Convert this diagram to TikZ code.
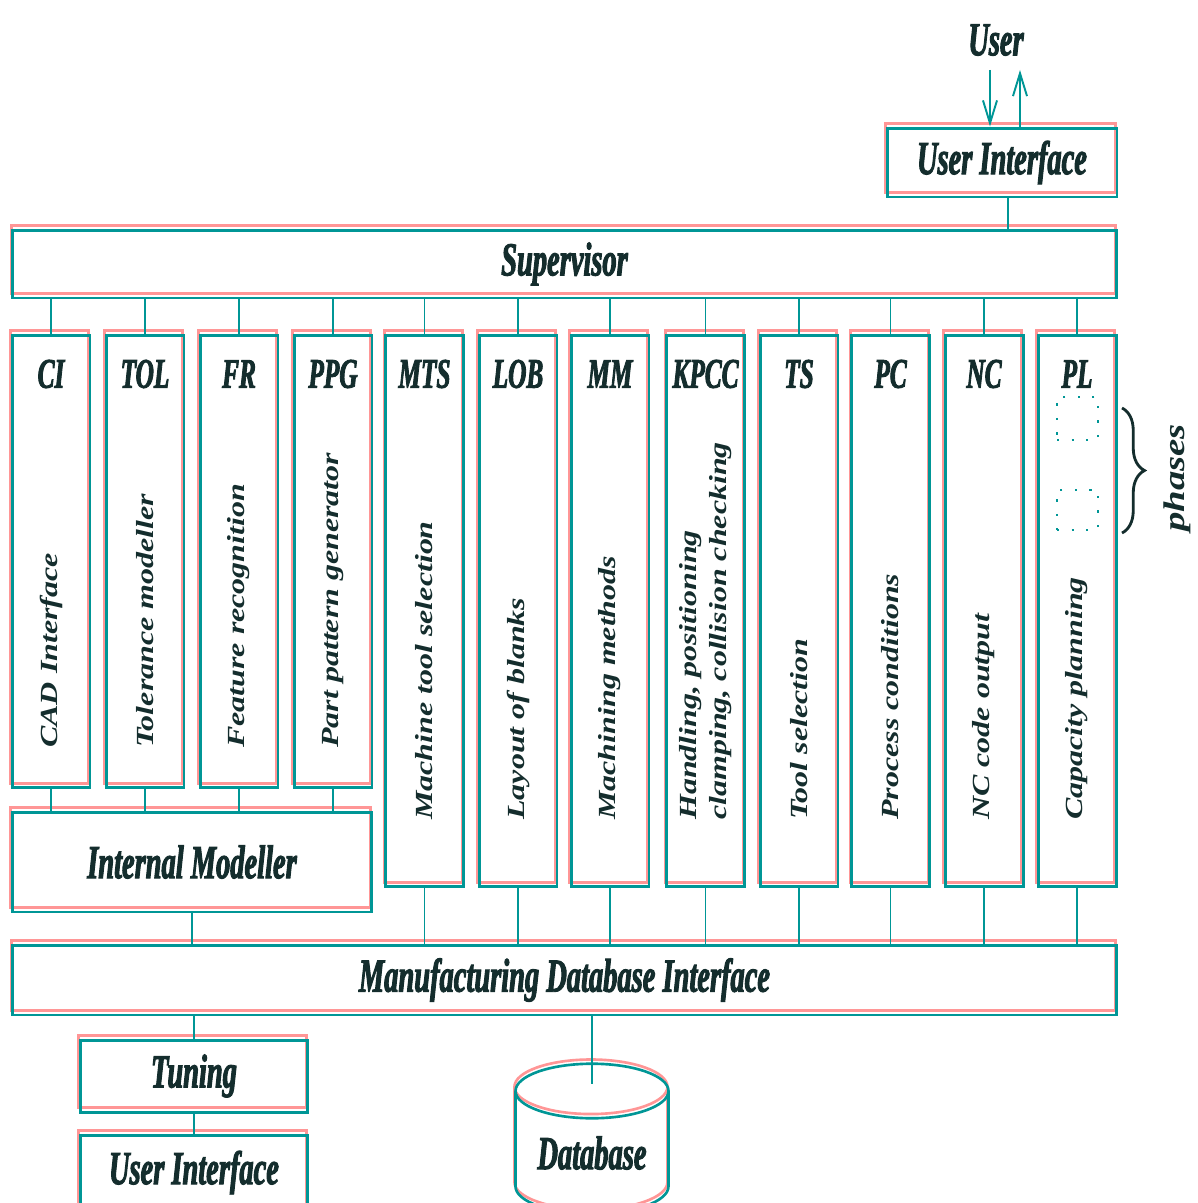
\documentclass[tikz,border=0pt]{standalone}
\usepackage{fontspec}
\newfontfamily\hfont[FakeStretch=0.6,FakeBold=2]{Liberation Serif Bold Italic}
\newfontfamily\vfont[FakeStretch=1.3]{Liberation Serif}
\usetikzlibrary{positioning,calc,arrows.meta,shapes.geometric,decorations.pathreplacing}
\definecolor{linecol}{RGB}{0,150,150}
\definecolor{halocol}{RGB}{255,150,150}
\definecolor{inkcol}{RGB}{20,45,45}

\begin{document}
\begin{tikzpicture}[
  x=0.02cm, y=-0.02cm,
  pinkhalo/.style={
    preaction={draw=halocol, transform canvas={shift={(-0.6pt,2.4pt)}}}
  },
  box/.style={
    draw=linecol,
    line width=1.7pt,
    pinkhalo,
    inner sep=0pt,
    text=inkcol,
    font=\hfont\fontsize{27}{30}\selectfont
  },
  module/.style={
    draw=linecol,
    line width=1.7pt,
    pinkhalo,
    minimum width=1.56cm,
    inner sep=0pt
  },
  modtitle/.style={text=inkcol, inner sep=0pt,
    font=\hfont\fontsize{24}{26}\selectfont},
  modtext/.style={
    text=inkcol,
    rotate=90,
    anchor=west,
    align=left,
    inner sep=0pt,
    font=\vfont\bfseries\itshape\fontsize{14}{17.5}\selectfont
  },
  link/.style={draw=linecol, line width=1.1pt},
  usrarrow/.style={link, -{Straight Barb[length=13pt,width=8pt]}},
  phbox/.style={draw=linecol, line width=1.3pt, dash pattern=on 1.3pt off 7pt,
    inner sep=0pt},
  dbase/.style={
    cylinder,
    shape border rotate=90,
    aspect=0.5,
    draw=linecol,
    line width=1.5pt,
    pinkhalo,
    minimum width=3.06cm,
    minimum height=3cm,
    inner sep=0pt,
    text=inkcol,
    font=\hfont\fontsize{27}{30}\selectfont
  },
  brace/.style={decorate, decoration={brace, amplitude=0.45cm},
    draw=inkcol, line width=1.6pt}
]
  \path[use as bounding box] (0,0) rectangle (1197,1203);
  \clip (0,0) rectangle (1197,1203);
  \fill[white] (0,0) rectangle (1197,1203);

  % user side
  \node[modtitle, font=\hfont\fontsize{27}{30}\selectfont]
    (user) at (996,40) {User};
  \node[box, minimum width=4.6cm, minimum height=1.38cm]
    (uitop) at (1002,162.5) {User Interface};
  \coordinate (usrin) at (990,70);
  \coordinate (usrout) at (1020,70);
  \draw[usrarrow] (usrin) -- (usrin |- uitop.north);
  \draw[usrarrow] (usrout |- uitop.north) -- (usrout);

  \node[box, minimum width=22.1cm, minimum height=1.36cm]
    (sup) at (564.5,264) {Supervisor};
  \draw[link] (uitop.south -| 1008,0) -- (sup.north -| 1008,0);

  % modules feeding the internal modeller
  \foreach \m/\x/\t/\d in {
      ci/51/CI/{CAD Interface},
      tol/145/TOL/{Tolerance modeller},
      fr/239/FR/{Feature recognition},
      ppg/333/PPG/{Part pattern generator}} {
    \node[module, minimum height=9.06cm] (\m) at (\x,561.5) {};
    \node[modtitle] (\m-t) at (\x,374) {\t};
    \node[modtext] (\m-d) at (\x,748) {\d};
  }

  % modules on the database interface
  \foreach \m/\x/\t/\d in {
      mts/424.5/MTS/{Machine tool selection},
      lob/518/LOB/{Layout of blanks},
      mm/610/MM/{Machining methods},
      kpcc/705.5/KPCC/{Handling, positioning\\clamping, collision checking},
      ts/799/TS/{Tool selection},
      pc/890.5/PC/{Process conditions},
      nc/984/NC/{NC code output},
      pl/1077/PL/{Capacity planning}} {
    \node[module, minimum height=11.04cm] (\m) at (\x,611) {};
    \node[modtitle] (\m-t) at (\x,374) {\t};
    \node[modtext] (\m-d) at (\x,820) {\d};
  }

  % phases of capacity planning
  \node[phbox, minimum width=0.82cm, minimum height=0.86cm] (ph1) at (1077.5,418.5) {};
  \node[phbox, minimum width=0.82cm, minimum height=0.8cm] (ph2) at (1077.5,510) {};
  \draw[brace] (1122,408) -- (1122,533);
  \node[modtext, anchor=center, font=\vfont\bfseries\itshape\fontsize{17}{20}\selectfont]
    (phases) at (1177,478) {phases};

  \node[box, minimum width=7.2cm, minimum height=2cm] (im) at (192,862) {Internal Modeller};
  \node[box, minimum width=22.1cm, minimum height=1.4cm]
    (mdi) at (564.5,980) {Manufacturing Database Interface};

  \foreach \m in {ci,tol,fr,ppg,mts,lob,mm,kpcc,ts,pc,nc,pl}
    \draw[link] (\m.north |- sup.south) -- (\m.north);
  \foreach \m in {ci,tol,fr,ppg}
    \draw[link] (\m.south) -- (\m.south |- im.north);
  \foreach \m in {mts,lob,mm,kpcc,ts,pc,nc,pl}
    \draw[link] (\m.south) -- (\m.south |- mdi.north);
  \draw[link] (im.south) -- (im.south |- mdi.north);

  % below the database interface
  \node[box, minimum width=4.56cm, minimum height=1.44cm] (tun) at (194,1076) {Tuning};
  \node[box, minimum width=4.56cm, minimum height=1.5cm]
    (uibot) at (194,1172.5) {User Interface};
  \node[dbase] (db) at (592,1153) {Database};
  \draw[link] (tun.north |- mdi.south) -- (tun.north);
  \draw[link] (tun.south) -- (uibot.north);
  \draw[link] (db.north |- mdi.south) -- ($(db.north)+(0,22)$);
\end{tikzpicture}
\end{document}
